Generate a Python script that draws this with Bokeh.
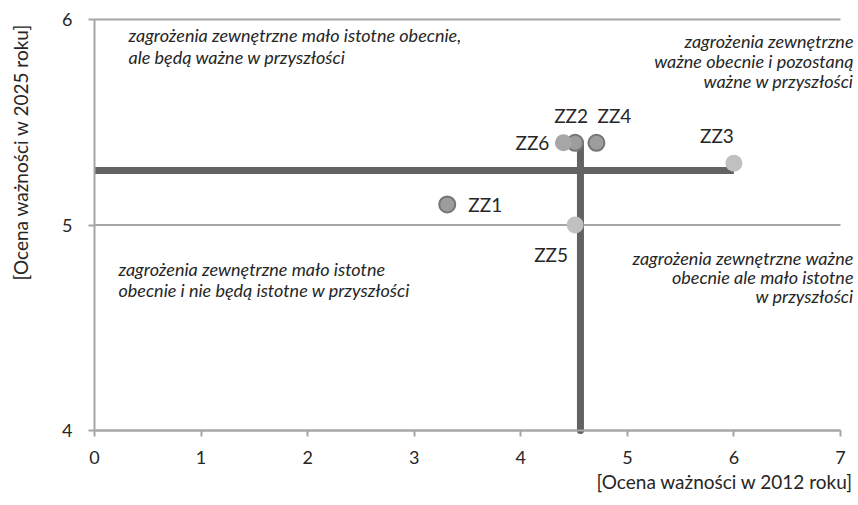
import math
from bokeh.plotting import figure
from bokeh.models import Range1d, Label, FixedTicker
from bokeh.embed import file_html
from bokeh.resources import INLINE

# Data
names = ["ZZ1", "ZZ2", "ZZ3", "ZZ4", "ZZ5", "ZZ6"]
x_2012 = [3.31, 4.51, 6.00, 4.71, 4.51, 4.40]
y_2025 = [5.10, 5.40, 5.30, 5.40, 5.00, 5.40]
mean_x = 4.56
mean_y = 5.265

x_ticks = [0, 1, 2, 3, 4, 5, 6, 7]
y_ticks = [4, 5, 6]
x_min, x_max = 0, 7
y_min, y_max = 4, 6

FONT = "Lato"
TXT = "#262626"
GRID = "#a6a6a6"

# The plot frame covers the whole canvas; axes sit at fixed data locations.
p = figure(width=858, height=505, output_backend="svg", toolbar_location=None,
           x_range=Range1d(-0.882, 7.169), y_range=Range1d(3.635, 6.0925),
           min_border_left=0, min_border_right=0, min_border_top=0, min_border_bottom=0)
p.outline_line_color = None
p.background_fill_color = "white"
p.xgrid.visible = False
p.ygrid.visible = False

# Horizontal grid lines across 0..7
p.segment(x0=[x_min] * len(y_ticks), y0=y_ticks, x1=[x_max] * len(y_ticks), y1=y_ticks,
          line_color=GRID, line_width=2)

# Axes
p.xaxis.fixed_location = y_min
p.yaxis.fixed_location = x_min
p.xaxis.ticker = FixedTicker(ticks=x_ticks)
p.yaxis.ticker = FixedTicker(ticks=y_ticks)
p.xaxis.bounds = (x_min, x_max)
p.yaxis.bounds = (y_min, y_max)
for ax in (p.xaxis, p.yaxis):
    ax.axis_line_color = GRID
    ax.axis_line_width = 2
    ax.major_tick_line_color = GRID
    ax.major_tick_line_width = 2
    ax.major_tick_in = 0
    ax.major_tick_out = 6
    ax.minor_tick_line_color = None
    ax.major_label_text_font = FONT
    ax.major_label_text_font_size = "18px"
    ax.major_label_text_color = TXT
p.xaxis.major_label_standoff = 15
p.yaxis.major_label_standoff = 16

# Axis titles
p.add_layout(Label(x=-0.694, y=5.367, text="[Ocena  ważności w 2025 roku]", angle=math.pi / 2,
                   text_align="center", text_baseline="middle",
                   text_font=FONT, text_font_size="19px", text_color=TXT))
p.add_layout(Label(x=7.165, y=3.752, text="[Ocena  ważności w 2012 roku]",
                   text_align="right", text_baseline="middle",
                   text_font=FONT, text_font_size="19px", text_color=TXT))

# Mean lines
p.line([x_min, max(x_2012)], [mean_y, mean_y], line_color="#626262", line_width=7, line_cap="butt")
p.line([mean_x, mean_x], [y_min, max(y_2025)], line_color="#626262", line_width=7, line_cap="round")

# Points
fills = {"ZZ1": "#9d9d9d", "ZZ2": "#9d9d9d", "ZZ3": "#c0c0c0", "ZZ4": "#9d9d9d", "ZZ5": "#c0c0c0", "ZZ6": "#a6a6a6"}
lines = {"ZZ1": "#757575", "ZZ2": "#757575", "ZZ3": None, "ZZ4": "#757575", "ZZ5": None, "ZZ6": None}
for n, xv, yv in zip(names, x_2012, y_2025):
    p.scatter([xv], [yv], size=16 if lines[n] else 17, fill_color=fills[n], line_color=lines[n], line_width=2)

# Point labels
offsets = {"ZZ1": (38, 0), "ZZ2": (-4, 27), "ZZ3": (-17, 28), "ZZ4": (18, 27), "ZZ5": (-24, -29), "ZZ6": (-31, 0)}
for n, xv, yv in zip(names, x_2012, y_2025):
    dx, dy = offsets[n]
    p.add_layout(Label(x=xv, y=yv, text=n, x_offset=dx, y_offset=dy,
                       text_align="center", text_baseline="middle",
                       text_font=FONT, text_font_size="19px", text_color=TXT))

# Quadrant annotations
quad = [
    ("zagrożenia zewnętrzne mało istotne obecnie,", 0.319, 5.924, "left"),
    ("ale będą ważne w przyszłości", 0.319, 5.819, "left"),
    ("zagrożenia zewnętrzne", 7.122, 5.897, "right"),
    ("ważne obecnie i pozostaną", 7.122, 5.800, "right"),
    ("ważne w przyszłości", 7.122, 5.703, "right"),
    ("zagrożenia zewnętrzne mało istotne", 0.225, 4.786, "left"),
    ("obecnie  i nie będą istotne w przyszłości", 0.225, 4.685, "left"),
    ("zagrożenia zewnętrzne ważne", 7.122, 4.840, "right"),
    ("obecnie ale mało istotne", 7.122, 4.748, "right"),
    ("w przyszłości", 7.122, 4.655, "right"),
]
for t, xv, yv, al in quad:
    p.add_layout(Label(x=xv, y=yv, text=t, text_align=al, text_baseline="middle",
                       text_font=FONT, text_font_size="18px", text_font_style="italic",
                       text_color=TXT))

open("out.html", "w").write(file_html(p, INLINE))
